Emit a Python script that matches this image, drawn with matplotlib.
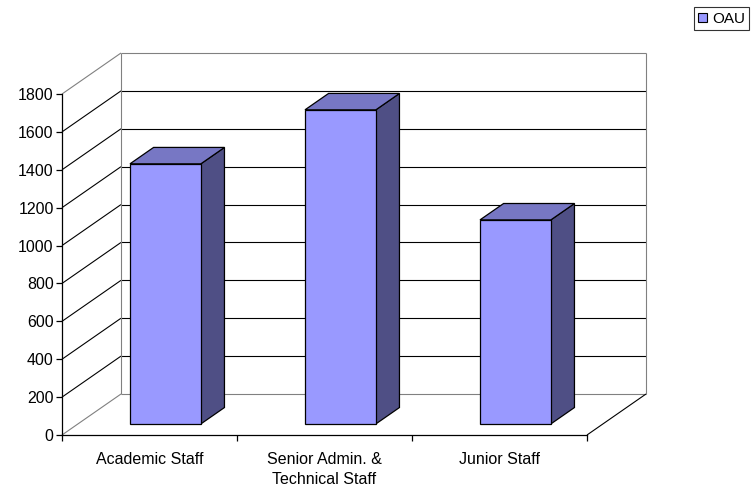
import matplotlib
matplotlib.use('Agg')
from matplotlib import pyplot as plt
from matplotlib.patches import Patch

# staff numbers per category
categories = ['Academic Staff', 'Senior Admin. &\nTechnical Staff', 'Junior Staff']
values = [1373, 1658, 1077]
series_name = 'OAU'
yticks = list(range(0, 2000, 200))

FRONT = '#9999FF'
TOP = '#7777C4'
SIDE = '#4F4F85'
GRAY = '#808080'

plt.rcParams['font.family'] = ['Liberation Sans', 'DejaVu Sans']
plt.rcParams['font.size'] = 11.5

fig = plt.figure(figsize=(7.51, 4.87), dpi=100)
ax = fig.add_axes([62 / 751, 52 / 487, 525 / 751, 341 / 487])
ymax = yticks[-1]
ax.set_xlim(0, len(categories))
ax.set_ylim(0, ymax)

# oblique depth offset in data units
DX = 59 / 175
DY = 41 / (341 / ymax)


def proj(x, y, z):
    return x + z * DX, y + z * DY


def seg(p, q, color, z=1):
    (x0, y0), (x1, y1) = proj(*p), proj(*q)
    ax.plot([x0, x1], [y0, y1], color=color, lw=0.8, clip_on=False, zorder=z,
            solid_capstyle='butt')


n = len(categories)
# back wall and side wall gridlines
for v in yticks:
    c = GRAY if v in (0, ymax) else 'black'
    seg((0, v, 1), (n, v, 1), c)
    seg((0, v, 0), (0, v, 1), c)
seg((0, 0, 1), (0, ymax, 1), GRAY)
seg((n, 0, 1), (n, ymax, 1), GRAY)
seg((n, 0, 0), (n, 0, 1), 'black')

# 3d bars
width = 0.405
z0, z1 = 0.27, 0.67
for i, v in enumerate(values):
    xl, xr = i + 0.5 - width / 2, i + 0.5 + width / 2
    front = [proj(xl, 0, z0), proj(xr, 0, z0), proj(xr, v, z0), proj(xl, v, z0)]
    top = [proj(xl, v, z0), proj(xr, v, z0), proj(xr, v, z1), proj(xl, v, z1)]
    side = [proj(xr, 0, z0), proj(xr, 0, z1), proj(xr, v, z1), proj(xr, v, z0)]
    for poly, col in ((side, SIDE), (top, TOP), (front, FRONT)):
        xs, ys = zip(*poly)
        ax.fill(xs, ys, facecolor=col, edgecolor='black', lw=0.9,
                clip_on=False, zorder=3)

ax.spines['top'].set_visible(False)
ax.spines['right'].set_visible(False)
for s in ('left', 'bottom'):
    ax.spines[s].set_linewidth(0.9)
ax.set_yticks(yticks)
ax.tick_params(axis='y', direction='out', length=4, width=0.9, pad=2)
ax.set_xticks(range(n + 1))
ax.set_xticklabels([])
ax.set_xticks([i + 0.5 for i in range(n)], minor=True)
ax.set_xticklabels(categories, minor=True, linespacing=1.45)
ax.tick_params(axis='x', which='major', direction='out', length=4, width=0.9)
ax.tick_params(axis='x', which='minor', length=0, pad=12)

leg = fig.legend(handles=[Patch(facecolor=FRONT, edgecolor='black', lw=0.8)],
                 labels=[series_name], loc='upper right',
                 bbox_to_anchor=(0.998, 0.985), fancybox=False,
                 handlelength=0.6, handleheight=0.6, handletextpad=0.3,
                 borderpad=0.3, borderaxespad=0, fontsize=11)
leg.get_frame().set_edgecolor('black')
leg.get_frame().set_linewidth(0.8)

fig.savefig('out.png', dpi=100)
